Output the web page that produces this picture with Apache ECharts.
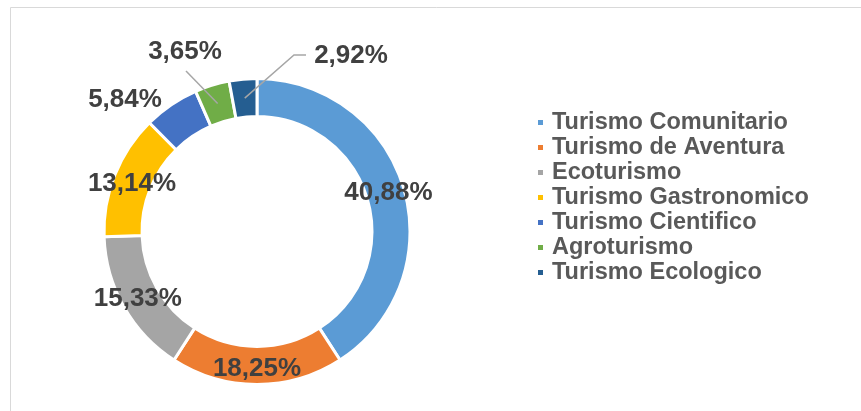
<!DOCTYPE html>
<html>
<head>
<meta charset="utf-8">
<title>Turismo</title>
<script src="https://cdn.jsdelivr.net/npm/echarts@6/dist/echarts.min.js"></script>
<style>
  html, body { margin: 0; padding: 0; background: #fff; }
  #chart { width: 861px; height: 411px; }
</style>
</head>
<body>
<div id="chart"></div>
<script>
// categories and shares (%)
const categories = [
  'Turismo Comunitario',
  'Turismo de Aventura',
  'Ecoturismo',
  'Turismo Gastronomico',
  'Turismo Cientifico',
  'Agroturismo',
  'Turismo Ecologico',
];
const shares = [40.88, 18.25, 15.33, 13.14, 5.84, 3.65, 2.92];
const colors = ['#5B9BD5', '#ED7D31', '#A5A5A5', '#FFC000', '#4472C4', '#70AD47', '#255E91'];

// labels that Excel had dragged away from the ring
const movedLabels = {
  3: { x: 132, y: 184 },
  4: { x: 125, y: 100 },
  5: { x: 185, y: 52 },
  6: { x: 351, y: 56 },
};
// leader line tails (knee points up to the label), per slice
const leaderTails = {
  5: [[186, 71]],
  6: [[294, 55], [306, 55]],
};

const fontFamily = '"Liberation Sans", Arial, sans-serif';
const center = [257, 231.5];
const radius = [115, 153];

const chart = echarts.init(document.getElementById('chart'));

// leader lines start at the middle of their slice, in the ring
const total = shares.reduce((a, b) => a + b, 0);
const leaders = [];
let acc = 0;
shares.forEach((v, i) => {
  const mid = acc + v / 2;
  acc += v;
  if (!leaderTails[i]) return;
  const ang = (90 - (mid / total) * 360) * Math.PI / 180;
  const r = (radius[0] + radius[1]) / 2;
  const start = [center[0] + r * Math.cos(ang), center[1] - r * Math.sin(ang)];
  leaders.push({
    type: 'polyline',
    silent: true,
    z: 100,
    shape: { points: [start].concat(leaderTails[i]) },
    style: { fill: 'none', stroke: '#a6a6a6', lineWidth: 1.5 },
  });
});

const option = {
  animation: false,
  color: colors,
  graphic: [{
    type: 'rect',
    silent: true,
    shape: { x: 10.5, y: 7.5, width: 900, height: 500 },
    style: { fill: 'none', stroke: '#d9d9d9', lineWidth: 1 },
  }].concat(leaders),
  legend: {
    orient: 'vertical',
    left: 531,
    top: 105,
    icon: 'rect',
    itemWidth: 7,
    itemHeight: 7,
    itemGap: 0,
    data: categories,
    textStyle: {
      color: '#595959',
      fontSize: 23.5,
      fontWeight: 'bold',
      fontFamily,
      lineHeight: 25,
      padding: [0, 0, 0, 3],
    },
  },
  series: [{
    type: 'pie',
    center,
    radius,
    startAngle: 90,
    clockwise: true,
    avoidLabelOverlap: false,
    itemStyle: { borderColor: '#fff', borderWidth: 3 },
    label: {
      show: true,
      position: 'inside',
      color: '#404040',
      fontSize: 26,
      fontWeight: 'bold',
      fontFamily,
      formatter: (p) => p.value.toFixed(2).replace('.', ',') + '%',
    },
    labelLine: { show: false },
    labelLayout: (params) => {
      const pos = movedLabels[params.dataIndex];
      if (!pos) return {};
      return { x: pos.x, y: pos.y, align: 'center', verticalAlign: 'middle' };
    },
    data: categories.map((name, i) => ({ name, value: shares[i] })),
  }],
};

chart.setOption(option);
</script>
</body>
</html>
